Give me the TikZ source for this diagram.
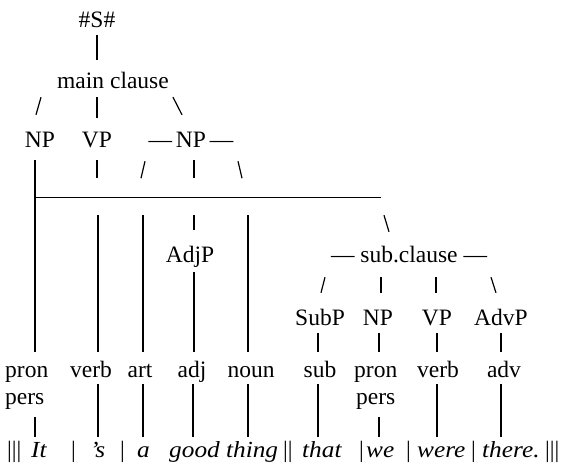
\documentclass[tikz,border=0pt]{standalone}
\usepackage{fontspec}
\setmainfont{Liberation Serif}
\newfontfamily\corsivo{Liberation Serif}[FakeStretch=1.1]
\usetikzlibrary{positioning}
\usetikzlibrary{calc}

\begin{document}
\begin{tikzpicture}[x=1pt,y=-1pt,
etichetta/.style={inner sep=0pt,anchor=base,text height=15pt,text depth=5pt,font=\fontsize{23.5}{28}\selectfont},
etichettaS/.style={etichetta,anchor=base west},
parola/.style={etichettaS,font=\fontsize{23}{28}\selectfont\corsivo\itshape},
sbarra/.style={etichettaS},
ramo/.style={line width=1.2pt}
]
\useasboundingbox (0,0) rectangle (562,472);
\node[etichetta](s) at (97,27){\#S\#};
\node[etichetta](mc) at (113,88){main clause};
\draw[ramo] ($(s.south)+(0,3)$) -- ($(s.south |- mc.north)+(0,-13)$);
%--
\node[etichetta](np1) at (40,147){NP};
\node[etichetta](vp1) at (97,147){VP};
\node[etichetta](np2) at (191,147){—\,NP\,—};
\draw[ramo] ($(mc.south -| np1.north)+(1,4)$) -- ($(np1.north)+(-4,-17)$);
\draw[ramo] ($(mc.south -| vp1.north)+(0,4)$) -- ($(vp1.north)+(0,-14)$);
\draw[ramo] ($(mc.south)+(60,4)$) -- ($(np2.north)+(-9,-17)$);
%--
\node[etichettaS](pron) at (5,377){pron};
\node[etichettaS](pers) at (5,404){pers};
\node[etichetta](verb) at (91,377){verb};
\node[etichetta](art) at (140,377){art};
\node[etichetta](adj) at (192,377){adj};
\node[etichetta](noun) at (251,377){noun};
\node[etichetta](adjp) at (190,262){AdjP};
\node[etichetta](sc) at (409,262){— sub.clause —};
%--
\coordinate (bar) at ($(np1.south)+(-5,45)$);
\draw[ramo] ($(np1.south)+(-5,8)$) -- ($(np1.south |- pron.north)+(-5,-10)$);
\draw[ramo] (bar) -- ($(bar -| sc.north)+(-28,0)$);
\draw[ramo] ($(vp1.south)+(0,8)$) -- ++(0,18);
\draw[ramo] ($(np2.south)+(-46,9)$) -- ($(np2.south)+(-50,26)$);
\draw[ramo] ($(np2.south)+(3,8)$) -- ++(0,18);
\draw[ramo] ($(np2.south)+(47,9)$) -- ($(np2.south)+(51,26)$);
%--
\draw[ramo] ($(bar -| verb.north)+(7,18)$) -- ($(verb.north)+(7,-10)$);
\draw[ramo] ($(bar -| art.north)+(3,18)$) -- ($(art.north)+(3,-10)$);
\draw[ramo] ($(bar -| adjp.north)+(4,18)$) -- ($(adjp.north)+(4,-17)$);
\draw[ramo] ($(adjp.south)+(4,5)$) -- ($(adjp.south |- adj.north)+(4,-10)$);
\draw[ramo] ($(bar -| noun.north)+(-3,18)$) -- ($(noun.north)+(-3,-10)$);
\draw[ramo] ($(bar -| sc.north)+(-25,18)$) -- ($(sc.north)+(-20,-15)$);
%/////////////////////////////////////////////////////////
\node[etichetta](subp) at (320,325){SubP};
\node[etichetta](np3) at (378,325){NP};
\node[etichetta](vp2) at (437,325){VP};
\node[etichetta](advp) at (501,325){AdvP};
\draw[ramo] ($(sc.south -| subp.north)+(5,10)$) -- ($(subp.north)+(1,-17)$);
\draw[ramo] ($(sc.south -| np3.north)+(3,10)$) -- ($(np3.north)+(3,-17)$);
\draw[ramo] ($(sc.south -| vp2.north)+(-1,10)$) -- ($(vp2.north)+(-1,-17)$);
\draw[ramo] ($(sc.south -| advp.north)+(-10,10)$) -- ($(advp.north)+(-5,-17)$);
%--
\node[etichetta](sub) at (320,377){sub};
\node[etichettaS](pron2) at (354,377){pron};
\node[etichettaS](pers2) at (356,404){pers};
\node[etichetta](verb2) at (438,377){verb};
\node[etichetta](adv) at (504,377){adv};
\draw[ramo] ($(subp.south)+(-2,3)$) -- ($(subp.south |- sub.north)+(-2,-10)$);
\draw[ramo] ($(np3.south)+(1,3)$) -- ($(np3.south |- pron2.north)+(1,-10)$);
\draw[ramo] ($(vp2.south)+(0,3)$) -- ($(vp2.south |- verb2.north)+(0,-10)$);
\draw[ramo] ($(advp.south)+(0,3)$) -- ($(advp.south |- adv.north)+(0,-10)$);
%/////////////////////////////////////////////////////////
\node[sbarra](b1) at (7,457){|||};
\node[parola](w1) at (31,457){It};
\node[sbarra](b2) at (71,457){|};
\node[parola](w2) at (90,457){’s};
\node[sbarra](b3) at (120,457){|};
\node[parola](w3) at (137,457){a};
\node[parola](w4) at (169,457){good thing};
\node[sbarra](b4) at (283,457){||};
\node[parola](w5) at (302,457){that};
\node[sbarra](b5) at (359,457){|};
\node[parola](w6) at (366,457){we};
\node[sbarra](b6) at (406,457){|};
\node[parola](w7) at (417,457){were};
\node[sbarra](b7) at (471,457){|};
\node[parola](w8) at (482,457){there.};
\node[sbarra](b8) at (545,457){|||};
%--
\draw[ramo] ($(pers.south -| np1.south)+(-5,8)$) -- ($(np1.south |- w1.north)+(-5,-5)$);
\draw[ramo] ($(verb.south)+(7,2)$) -- ($(verb.south |- w2.north)+(7,-5)$);
\draw[ramo] ($(art.south)+(3,2)$) -- ($(art.south |- w3.north)+(3,-5)$);
\draw[ramo] ($(adj.south)+(1,2)$) -- ($(adj.south |- w4.north)+(1,-5)$);
\draw[ramo] ($(noun.south)+(-3,2)$) -- ($(noun.south |- w4.north)+(-3,-5)$);
\draw[ramo] ($(sub.south)+(-2,2)$) -- ($(sub.south |- w5.north)+(-2,-5)$);
\draw[ramo] ($(pers2.south -| np3.south)+(1,8)$) -- ($(np3.south |- w6.north)+(1,-5)$);
\draw[ramo] ($(verb2.south)+(-1,2)$) -- ($(verb2.south |- w7.north)+(-1,-5)$);
\draw[ramo] ($(adv.south)+(-3,2)$) -- ($(adv.south |- w8.north)+(-3,-5)$);
\end{tikzpicture}
\end{document}
